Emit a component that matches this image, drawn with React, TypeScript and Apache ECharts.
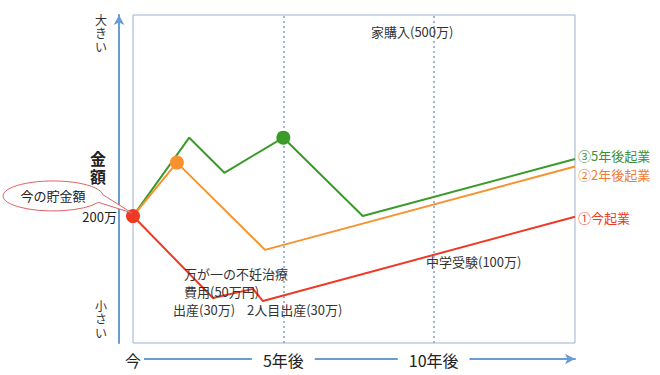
import React, { useEffect, useRef } from 'react';
import * as echarts from 'echarts';

// Years from "now" (x) and relative savings amount (y, arbitrary 0-100 scale)
const greenX = [0, 1.87, 3.04, 5, 7.64, 14.7];
const greenY = [38.7, 62.6, 51.9, 62.6, 38.7, 56.1];
const orangeX = [0, 1.46, 4.39, 14.7];
const orangeY = [38.7, 55.0, 28.4, 53.8];
const redX = [0, 2.66, 3.99, 4.32, 14.7];
const redY = [38.7, 13.7, 16.5, 12.8, 38.5];

const seriesNames = ['③5年後起業', '②2年後起業', '①今起業'];
const markerIndex = [3, 1, 0];

const xTickValues = [0, 5, 10];
const xTickLabels = ['今', '5年後', '10年後'];
const yTickValues = [38.7];
const yTickLabels = ['200万'];
const guideYears = [5, 10];

const FONT = '"Noto Sans CJK JP", "Noto Sans", sans-serif';
const GREEN = '#3a9a2a';
const GREEN_LABEL = '#3d8f35';
const ORANGE = '#f7922e';
const ORANGE_LABEL = '#f07c32';
const RED = '#ee3a24';
const AXIS = '#6a9bd1';

const bubblePath =
  'M 98.3 202.3 A 50 15 0 1 1 102.8 194.7 L 132 213 Z';

let registered = false;
function ensureShape() {
  if (registered) return;
  echarts.graphic.registerShape('bubble', echarts.graphic.extendPath(bubblePath, {}));
  registered = true;
}

function pairs(xs: number[], ys: number[], mark: number, color: string) {
  return xs.map((x, i) =>
    i === mark
      ? { value: [x, ys[i]], symbol: 'circle', symbolSize: 14, itemStyle: { color } }
      : { value: [x, ys[i]], symbol: 'none' }
  );
}

function vChars(chars: string[], x: number, y0: number, step: number, font: string, fill: string) {
  return chars.map((c, i) => ({
    type: 'text',
    x,
    y: y0 + i * step,
    z: 10,
    style: { text: c, fill, font, textAlign: 'center', textVerticalAlign: 'middle' },
  }));
}

export default function App() {
  const ref = useRef<HTMLDivElement>(null);
  useEffect(() => {
    if (!ref.current) return;
    ensureShape();
    const chart = echarts.init(ref.current, undefined, { renderer: 'svg' });
    const mkSeries = (name: string, xs: number[], ys: number[], mark: number, color: string, labelColor: string, labelDy: number, z: number, extra: any = {}) => ({
      type: 'line',
      name,
      z,
      data: pairs(xs, ys, mark, color),
      showSymbol: true,
      lineStyle: { color, width: 2 },
      itemStyle: { color },
      endLabel: {
        show: true,
        formatter: name,
        color: labelColor,
        fontSize: 13,
        fontFamily: FONT,
        distance: 3,
        offset: [0, labelDy],
      },
      ...extra,
    });
    const option: any = {
      animation: false,
      textStyle: { fontFamily: FONT },
      grid: {
        left: 133,
        top: 15,
        width: 442,
        height: 328,
        show: true,
        borderColor: '#9bb3d3',
        borderWidth: 1,
        outerBoundsMode: 'none',
        containLabel: false,
      },
      xAxis: {
        type: 'value',
        min: 0,
        max: 14.7,
        interval: 5,
        offset: 16,
        axisLine: {
          show: true,
          onZero: false,
          symbol: ['none', 'arrow'],
          symbolSize: [8, 10],
          lineStyle: { color: AXIS, width: 2 },
        },
        axisTick: { show: false },
        splitLine: { show: false },
        axisLabel: {
          customValues: xTickValues,
          verticalAlign: 'middle',
          margin: 1,
          formatter: (v: number) => {
            const i = xTickValues.indexOf(v);
            if (i < 0) return '';
            return i === 0 ? `{a|${xTickLabels[i]}}` : `{b|${xTickLabels[i]}}`;
          },
          rich: {
            a: { backgroundColor: '#fff', padding: [2, 3], fontSize: 16, color: '#222', fontFamily: FONT },
            b: { backgroundColor: '#fff', padding: [2, 11], fontSize: 16, color: '#222', fontFamily: FONT },
          },
        },
      },
      yAxis: {
        type: 'value',
        min: 0,
        max: 100,
        offset: 14,
        axisLine: {
          show: true,
          onZero: false,
          symbol: ['none', 'arrow'],
          symbolSize: [8, 10],
          lineStyle: { color: AXIS, width: 2 },
        },
        axisTick: { show: false },
        splitLine: { show: false },
        axisLabel: {
          customValues: yTickValues,
          margin: 2,
          fontSize: 13,
          color: '#222',
          fontFamily: FONT,
          formatter: (v: number) => {
            const i = yTickValues.indexOf(v);
            return i < 0 ? '' : yTickLabels[i];
          },
        },
      },
      series: [
        mkSeries(seriesNames[0], greenX, greenY, markerIndex[0], GREEN, GREEN_LABEL, -3, 3, {
          markLine: {
            silent: true,
            symbol: ['none', 'none'],
            label: { show: false },
            lineStyle: { color: '#7f9fcf', type: [2, 3], width: 1.5 },
            data: guideYears.map((y) => ({ xAxis: y })),
            z: 1,
          },
        }),
        mkSeries(seriesNames[1], orangeX, orangeY, markerIndex[1], ORANGE, ORANGE_LABEL, 8, 4),
        mkSeries(seriesNames[2], redX, redY, markerIndex[2], RED, RED, 1, 5),
      ],
      graphic: [
        ...vChars(['大', 'き', 'い'], 101, 19, 13.5, `12px ${FONT}`, '#333'),
        ...vChars(['小', 'さ', 'い'], 101, 305, 13.5, `12px ${FONT}`, '#333'),
        ...vChars(['金', '額'], 98, 158, 17.5, `bold 16px ${FONT}`, '#222'),
        { type: 'bubble', x: 0, y: 0, z: 10, style: { fill: '#fff', stroke: '#e06262', lineWidth: 1 } },
        { type: 'text', x: 53, y: 195, z: 11, style: { text: '今の貯金額', fill: '#222', font: `13px ${FONT}`, textAlign: 'center', textVerticalAlign: 'middle' } },
        { type: 'text', x: 371, y: 31, z: 10, style: { text: '家購入(500万)', fill: '#333', font: `13px ${FONT}`, textVerticalAlign: 'middle' } },
        { type: 'text', x: 426, y: 261, z: 10, style: { text: '中学受験(100万)', fill: '#333', font: `13px ${FONT}`, textVerticalAlign: 'middle' } },
        { type: 'text', x: 184, y: 273, z: 10, style: { text: '万が一の不妊治療', fill: '#333', font: `13px ${FONT}`, textVerticalAlign: 'middle' } },
        { type: 'text', x: 184, y: 291, z: 10, style: { text: '費用(50万円)', fill: '#333', font: `13px ${FONT}`, textVerticalAlign: 'middle' } },
        { type: 'text', x: 173, y: 309, z: 10, style: { text: '出産(30万)', fill: '#333', font: `13px ${FONT}`, textVerticalAlign: 'middle' } },
        { type: 'text', x: 247, y: 309, z: 10, style: { text: '2人目出産(30万)', fill: '#333', font: `13px ${FONT}`, textVerticalAlign: 'middle' } },
      ],
    };
    chart.setOption(option);
    return () => chart.dispose();
  }, []);
  return (
    <div
      ref={ref}
      style={{ position: 'fixed', left: 0, top: 0, width: 660, height: 375, background: '#fff' }}
    />
  );
}
